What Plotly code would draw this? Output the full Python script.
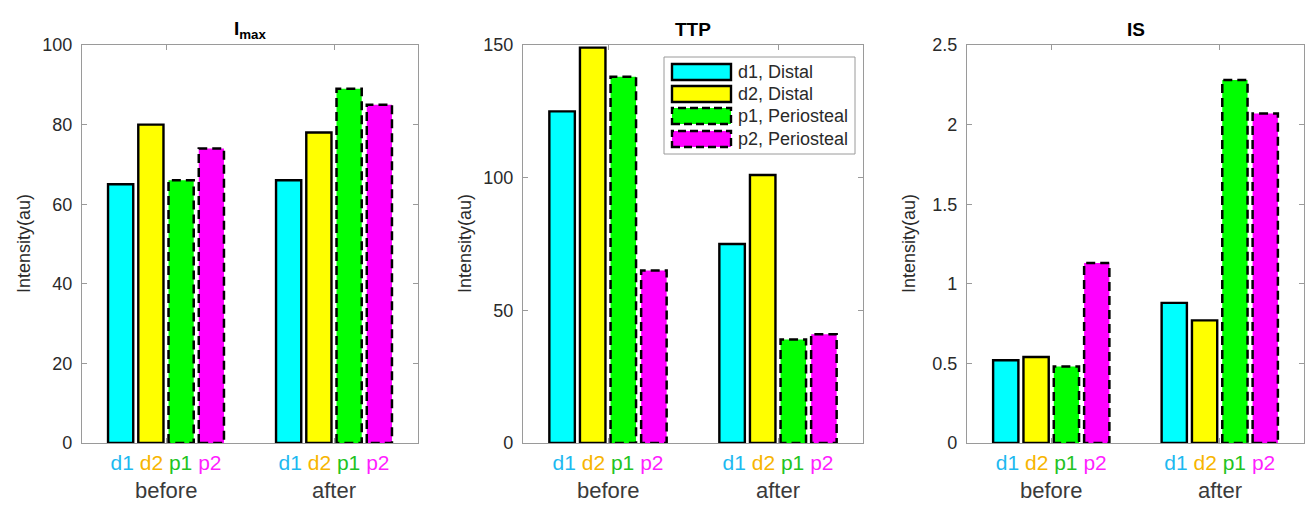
import plotly.graph_objects as go

# ---------------- data ----------------
groups = ["before", "after"]
series_short = ["d1", "d2", "p1", "p2"]
series_names = ["d1, Distal", "d2, Distal", "p1, Periosteal", "p2, Periosteal"]
panel_titles = ["<b>I<sub>max</sub></b>", "<b>TTP</b>", "<b>IS</b>"]

imax_d1 = [65, 66]
imax_d2 = [80, 78]
imax_p1 = [66, 89]
imax_p2 = [74, 85]

ttp_d1 = [125, 75]
ttp_d2 = [149, 101]
ttp_p1 = [138, 39]
ttp_p2 = [65, 41]

is_d1 = [0.52, 0.88]
is_d2 = [0.54, 0.77]
is_p1 = [0.48, 2.28]
is_p2 = [1.13, 2.07]

y_tickvals = [[0, 20, 40, 60, 80, 100], [0, 50, 100, 150], [0, 0.5, 1, 1.5, 2, 2.5]]
y_ticktext = [["0", "20", "40", "60", "80", "100"], ["0", "50", "100", "150"],
              ["0", "0.5", "1", "1.5", "2", "2.5"]]

# ---------------- style ----------------
panels = [
    [imax_d1, imax_d2, imax_p1, imax_p2],
    [ttp_d1, ttp_d2, ttp_p1, ttp_p2],
    [is_d1, is_d2, is_p1, is_p2],
]
y_max = [100, 150, 2.5]
fills = ["#00FFFF", "#FFFF00", "#00FF00", "#FF00FF"]
label_colors = ["#1DB9F0", "#F7B500", "#22C322", "#FF1FFF"]
dashed = [False, False, True, True]

# the page body has an 8px margin; lay out in page pixels and convert
OFF = 8
W, H = 1314 - 2 * OFF, 512 - 2 * OFF


def fx(x):
    return (x - OFF) / W


def fy(y):
    return 1 - (y - OFF) / H


x_domains = [[fx(82), fx(418)], [fx(523), fx(863)], [fx(967), fx(1304)]]
y_domain = [fy(443), fy(45)]
step = 0.18
bar_w = 0.15
frame_col = "#9a9a9a"
text_col = "#2a2a2a"
FONT = "Liberation Sans, Arial, Helvetica, sans-serif"

fig = go.Figure()
group_pos = [i + 1 for i in range(len(groups))]

ticktext_x = [" ".join(
    f"<span style='color:{label_colors[k]}'>{series_short[k]}</span>" for k in range(4))
    for _ in groups]

for p, series in enumerate(panels):
    xa = "x" if p == 0 else f"x{p + 1}"
    ya = "y" if p == 0 else f"y{p + 1}"
    for k, vals in enumerate(series):
        xs = [g + (k - 1.5) * step for g in group_pos]
        fig.add_trace(go.Bar(
            x=xs, y=vals, width=bar_w, xaxis=xa, yaxis=ya,
            marker=dict(color=fills[k],
                        line=dict(color="black", width=0 if dashed[k] else 2.4)),
            showlegend=False, name=series_names[k]))
        if dashed[k]:
            ox, oy = [], []
            for x, v in zip(xs, vals):
                ox += [x - bar_w / 2, x - bar_w / 2, x + bar_w / 2, x + bar_w / 2, x - bar_w / 2, None]
                oy += [0, v, v, 0, 0, None]
            fig.add_trace(go.Scatter(
                x=ox, y=oy, mode="lines", xaxis=xa, yaxis=ya,
                line=dict(color="black", width=2.5, dash="9px,5px"),
                hoverinfo="skip", showlegend=False))

    xkey = "xaxis" if p == 0 else f"xaxis{p + 1}"
    ykey = "yaxis" if p == 0 else f"yaxis{p + 1}"
    fig.layout[xkey] = dict(
        domain=x_domains[p], anchor=ya, range=[0.5, 2.5], automargin=False,
        tickvals=group_pos, ticktext=ticktext_x,
        tickfont=dict(size=21, family=FONT),
        ticks="inside", ticklen=5, tickcolor=frame_col,
        showline=True, linecolor=frame_col, linewidth=1.2, mirror="ticks",
        showgrid=False, zeroline=False, fixedrange=True, ticklabelstandoff=1)
    fig.layout[ykey] = dict(
        domain=y_domain, anchor=xa, range=[0, y_max[p]], automargin=False,
        tickvals=y_tickvals[p], ticktext=y_ticktext[p],
        tickfont=dict(size=18, family=FONT, color=text_col),
        ticks="inside", ticklen=5, tickcolor=frame_col,
        showline=True, linecolor=frame_col, linewidth=1.2, mirror="ticks",
        showgrid=False, zeroline=False, fixedrange=True, ticklabelstandoff=5)

    # panel title
    fig.add_annotation(text=panel_titles[p], xref=f"{xa} domain", yref="paper",
                       x=0.5, y=fy(30), xanchor="center", yanchor="middle",
                       showarrow=False, font=dict(size=19, family=FONT, color="black"))
    # y-axis title
    fig.add_annotation(text="Intensity(au)", xref=f"{xa} domain", yref=f"{ya} domain",
                       x=0, y=0.5, xshift=-58, textangle=-90, xanchor="center",
                       yanchor="middle", showarrow=False,
                       font=dict(size=18, family=FONT, color=text_col))
    # group names
    for g, name in zip(group_pos, groups):
        fig.add_annotation(text=name, xref=xa, yref="paper", x=g, y=0,
                           xanchor="center", yanchor="bottom", showarrow=False,
                           borderpad=0,
                           font=dict(size=22, family=FONT, color="#3a3a3a"))

# ---------------- manual legend (in TTP panel) ----------------
fig.add_shape(type="rect", xref="paper", yref="paper",
              x0=fx(664), x1=fx(855), y0=fy(154), y1=fy(57),
              line=dict(color="#9a9a9a", width=1), fillcolor="white", layer="above")
row_centers = [72, 94, 116, 139]
for k in range(4):
    yc = row_centers[k]
    fig.add_shape(type="rect", xref="paper", yref="paper",
                  x0=fx(672), x1=fx(731), y0=fy(yc + 8), y1=fy(yc - 8),
                  fillcolor=fills[k], layer="above",
                  line=dict(color="black", width=2.4,
                            dash="8px,4px" if dashed[k] else "solid"))
    fig.add_annotation(text=series_names[k], xref="paper", yref="paper",
                       x=fx(736), y=fy(yc), xanchor="left", yanchor="middle",
                       showarrow=False, font=dict(size=18, family=FONT, color=text_col))

fig.update_layout(
    width=W, height=H, margin=dict(l=0, r=0, t=0, b=0),
    paper_bgcolor="white", plot_bgcolor="white", barmode="overlay",
    font=dict(family=FONT, color=text_col), showlegend=False)

fig.write_html("out.html")
